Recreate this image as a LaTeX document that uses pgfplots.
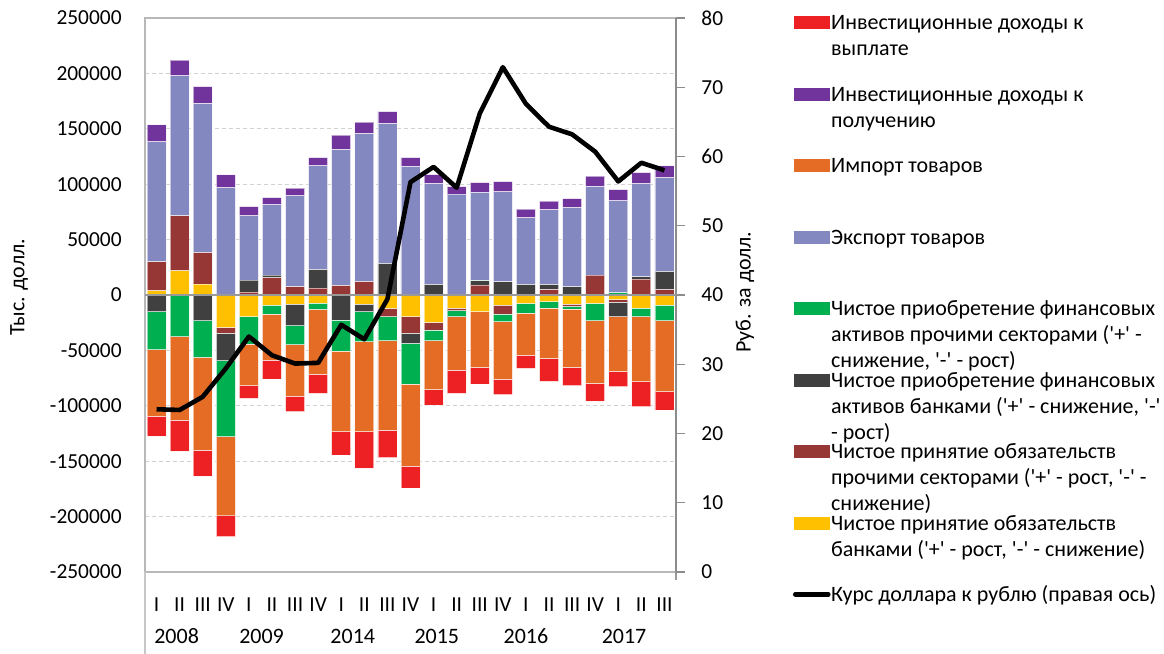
\documentclass[border=0pt]{standalone}
\usepackage{pgfplots}
\usepackage{pgfplotstable}
\pgfplotsset{compat=1.18}
\usepackage{fontspec}
\setmainfont{Carlito}
\definecolor{cRed}{RGB}{237,32,36}
\definecolor{cPurple}{RGB}{112,52,156}
\definecolor{cOrange}{RGB}{228,108,36}
\definecolor{cExport}{RGB}{132,136,192}
\definecolor{cGreen}{RGB}{0,176,80}
\definecolor{cGray}{RGB}{64,64,64}
\definecolor{cDRed}{RGB}{150,55,53}
\definecolor{cYellow}{RGB}{255,192,0}
\newcommand{\q}{\textquotesingle}
\newcommand{\legtxt}[1]{\raisebox{0pt}[\height][0pt]{\begin{tabular}[t]{@{}l@{}}#1\end{tabular}}}

\pgfplotstableread{
x Y DR G GR E P
0 3760 26170 0 0 108270 15360
1 21800 49640 0 0 126340 14120
2 9780 28570 0 0 134460 15340
3 0 0 0 0 96710 11730
4 0 2600 10800 0 58050 8420
5 0 15490 2400 0 63480 6610
6 0 7370 0 0 82120 6910
7 0 6170 16840 0 93550 7520
8 0 8570 0 0 122730 12930
9 0 12180 0 0 133560 10220
10 0 0 28430 0 126330 10830
11 0 0 0 0 115960 8120
12 0 0 9480 0 91140 8120
13 0 0 0 0 90990 6920
14 0 8870 3910 300 79410 9030
15 0 0 11880 0 81220 9320
16 0 0 9480 0 60160 7820
17 0 4960 4520 0 67380 7820
18 0 0 7370 0 71590 8120
19 0 17900 0 0 80010 9330
20 0 0 0 2000 82980 10220
21 0 14290 2100 0 84230 9920
22 0 4960 16250 0 84820 10530
}\pos

\pgfplotstableread{
x Y DR G GR O R
0 0 0 -14980 -34290 -60160 -18050
1 0 0 0 -37540 -75200 -28270
2 0 0 -23100 -33090 -83620 -23760
3 -29120 -5110 -24970 -68580 -71590 -18650
4 -19490 0 0 -24670 -37600 -11430
5 -8960 0 0 -8130 -41510 -17140
6 -8060 0 -19550 -17150 -46620 -13840
7 -7160 0 0 -5710 -58360 -17450
8 0 0 -22500 -27970 -72800 -21050
9 -8060 0 -6920 -27070 -81220 -33090
10 -11970 -7520 0 -21660 -80610 -24970
11 -19490 -14740 -9330 -36690 -74300 -19550
12 -24610 -6910 0 -9630 -44220 -13830
13 -11670 -2410 0 -5410 -48130 -21060
14 -14980 0 0 0 -50230 -15040
15 -9020 -8070 0 -6910 -51740 -14140
16 -7460 0 0 -8720 -37900 -12040
17 -5960 0 0 -5710 -45420 -20760
18 -8060 -2110 0 -2400 -52640 -16550
19 -7460 0 0 -15640 -56550 -16240
20 -4150 -2110 -13230 0 -49330 -13840
21 -11670 0 0 -7820 -58660 -22560
22 -9020 0 0 -14080 -64070 -16550
}\neg

\pgfplotstableread{
x rate
0 23.5
1 23.4
2 25.3
3 29.4
4 34.0
5 31.3
6 30.1
7 30.2
8 35.7
9 33.6
10 39.4
11 56.3
12 58.5
13 55.5
14 66.2
15 72.9
16 67.6
17 64.3
18 63.2
19 60.7
20 56.4
21 59.1
22 58.0
}\rate

\pgfplotsset{
  base/.style={
    at={(72.5pt,41pt)}, anchor=south west,
    scale only axis, width=265.5pt, height=277pt,
    xmin=-0.5, xmax=22.5,
  },
  bars/.style={ybar stacked, bar width=9.5pt,
    every axis plot/.append style={draw=white, draw opacity=0.55, line width=0.4pt}},
}

\begin{document}
\fontsize{11}{13}\selectfont
\begin{tikzpicture}
\path[use as bounding box] (0,0) rectangle (582pt,327pt);

% positive parts + grid + left axis
\begin{axis}[base, bars,
  ymin=-250000, ymax=250000,
  ytick={-250000,-200000,...,250000},
  scaled y ticks=false,
  /pgf/number format/.cd, fixed, 1000 sep={}, assume math mode=true, /pgfplots/.cd,
  ymajorgrids,
  grid style={dash pattern=on 2pt off 1.5pt, color=black!18, line width=0.5pt},
  xtick={0,...,22},
  xticklabels={I,II,III,IV,I,II,III,IV,I,II,III,IV,I,II,III,IV,I,II,III,IV,I,II,III},
  xtick style={draw=none}, ytick style={draw=none},
  axis line style={black!28, line width=0.7pt},
  tick label style={font=\fontsize{10.7}{13}\selectfont},
  yticklabel style={anchor=east, inner sep=0pt, xshift=-11.5pt},
  xticklabel style={anchor=base, inner sep=0pt, yshift=-19.8pt},
  ylabel={Тыс. долл.},
  ylabel style={at={(axis description cs:-0.237,0.514)}, anchor=center},
  clip=false,
]
\addplot[fill=cYellow] table[x=x,y=Y] {\pos};
\addplot[fill=cDRed] table[x=x,y=DR] {\pos};
\addplot[fill=cGray] table[x=x,y=G] {\pos};
\addplot[fill=cGreen] table[x=x,y=GR] {\pos};
\addplot[fill=cExport] table[x=x,y=E] {\pos};
\addplot[fill=cPurple] table[x=x,y=P] {\pos};
\draw[black!22, line width=0.7pt] (rel axis cs:0,0) -- ++(0pt,-41pt);
\draw[black!40, line width=0.7pt] (rel axis cs:1,0) -- ++(0pt,-4pt);
\path (axis cs:0.87,-250000)  node[anchor=base, yshift=-35.85pt] {2008};
\path (axis cs:4.55,-250000)  node[anchor=base, yshift=-35.85pt] {2009};
\path (axis cs:8.5,-250000)   node[anchor=base, yshift=-35.85pt] {2014};
\path (axis cs:12.14,-250000) node[anchor=base, yshift=-35.85pt] {2015};
\path (axis cs:16.0,-250000)  node[anchor=base, yshift=-35.85pt] {2016};
\path (axis cs:20.25,-250000) node[anchor=base, yshift=-35.85pt] {2017};
\end{axis}

% negative parts
\begin{axis}[base, bars,
  ymin=-250000, ymax=250000,
  axis lines=none, ticks=none,
]
\addplot[fill=cYellow] table[x=x,y=Y] {\neg};
\addplot[fill=cDRed] table[x=x,y=DR] {\neg};
\addplot[fill=cGray] table[x=x,y=G] {\neg};
\addplot[fill=cGreen] table[x=x,y=GR] {\neg};
\addplot[fill=cOrange] table[x=x,y=O] {\neg};
\addplot[fill=cRed] table[x=x,y=R] {\neg};
\end{axis}

% right axis with exchange rate and legend
\begin{axis}[base,
  ymin=0, ymax=80,
  axis y line*=right, axis x line=none,
  ytick={0,10,...,80},
  /pgf/number format/assume math mode=true,
  tick align=outside, major tick length=4.5pt,
  ytick style={black!45, line width=0.7pt},
  axis line style={black!45, line width=0.9pt},
  tick label style={font=\fontsize{10.7}{13}\selectfont},
  yticklabel style={anchor=west, inner sep=0pt, xshift=8pt},
  extra y ticks={40}, extra y tick labels={},
  extra y tick style={grid=major, major grid style={solid, color=black!40, line width=0.8pt}},
  ylabel={Руб. за долл.},
  ylabel style={at={(axis description cs:1.13,0.505)}, anchor=center},
  legend cell align=left,
  legend style={at={(axis description cs:1.2203,1.0114)}, anchor=north west,
    draw=none, fill=none, inner sep=0pt, outer sep=0pt,
    row sep=25pt, column sep=0.3pt,
    nodes={inner sep=0pt}},
]
\addlegendimage{legend image code/.code={\fill[cRed] (0pt,-3pt) rectangle (17.5pt,3pt);}}
\addlegendentry{\legtxt{Инвестиционные доходы к\\выплате}}
\addlegendimage{legend image code/.code={\fill[cPurple] (0pt,-3pt) rectangle (17.5pt,3pt);}}
\addlegendentry{\legtxt{Инвестиционные доходы к\\получению}}
\addlegendimage{legend image code/.code={\fill[cOrange] (0pt,-3pt) rectangle (17.5pt,3pt);}}
\addlegendentry{\legtxt{Импорт товаров}}
\addlegendimage{legend image code/.code={\fill[cExport] (0pt,-3pt) rectangle (17.5pt,3pt);}}
\addlegendentry{\legtxt{Экспорт товаров}}
\addlegendimage{legend image code/.code={\fill[cGreen] (0pt,-3pt) rectangle (17.5pt,3pt);}}
\addlegendentry{\legtxt{Чистое приобретение финансовых\\активов прочими секторами (\q+\q{} -\\снижение, \q-\q{} - рост)}}
\addlegendimage{legend image code/.code={\fill[cGray] (0pt,-3pt) rectangle (17.5pt,3pt);}}
\addlegendentry{\legtxt{Чистое приобретение финансовых\\активов банками (\q+\q{} - снижение, \q-\q\\- рост)}}
\addlegendimage{legend image code/.code={\fill[cDRed] (0pt,-3pt) rectangle (17.5pt,3pt);}}
\addlegendentry{\legtxt{Чистое принятие обязательств\\прочими секторами (\q+\q{} - рост, \q-\q{} -\\снижение)}}
\addlegendimage{legend image code/.code={\fill[cYellow] (0pt,-3pt) rectangle (17.5pt,3pt);}}
\addlegendentry{\legtxt{Чистое принятие обязательств\\банками (\q+\q{} - рост, \q-\q{} - снижение)}}
\addplot[black, line width=2.3pt, line join=round, mark=none,
  legend image code/.code={\draw[black, line width=2.3pt, line cap=round] (0.5pt,0pt) -- (17pt,0pt);}]
  table[x=x,y=rate] {\rate};
\addlegendentry{\legtxt{Курс доллара к рублю (правая ось)}}
\end{axis}
\end{tikzpicture}
\end{document}
